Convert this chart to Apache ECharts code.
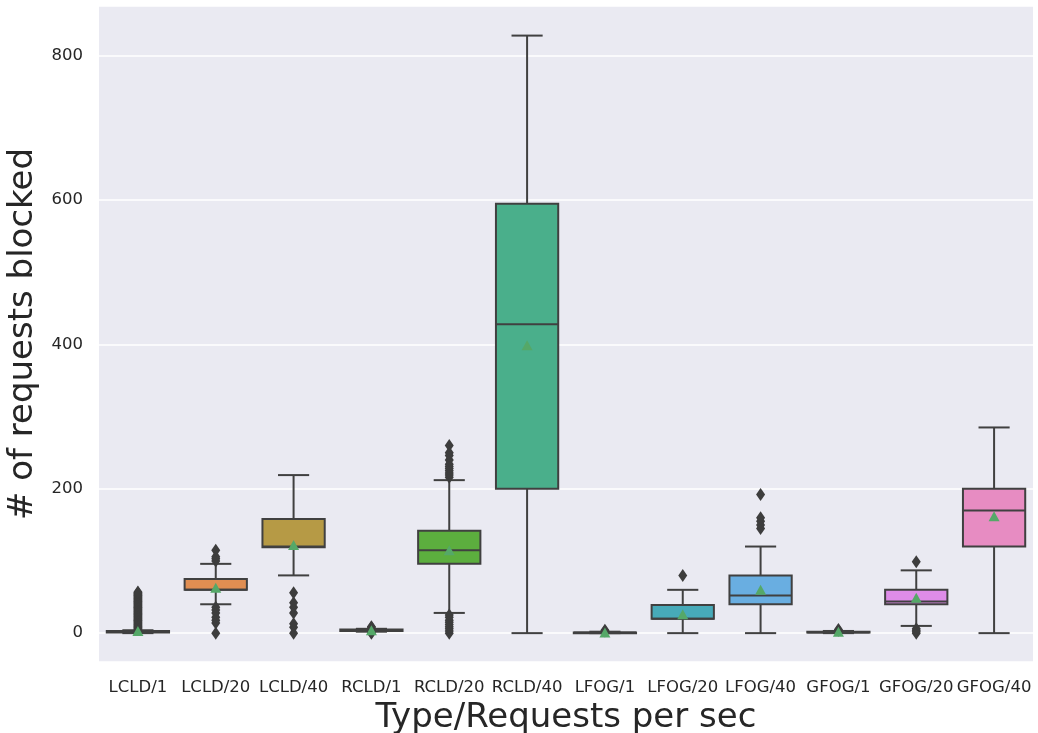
<!DOCTYPE html>
<html>
<head>
<meta charset="utf-8">
<script src="https://cdn.jsdelivr.net/npm/echarts@6/dist/echarts.min.js"></script>
<style>html,body{margin:0;padding:0;background:#fff;}#chart{width:1038px;height:733px;}</style>
</head>
<body>
<div id="chart"></div>
<script>
const categories = ['LCLD/1','LCLD/20','LCLD/40','RCLD/1','RCLD/20','RCLD/40','LFOG/1','LFOG/20','LFOG/40','GFOG/1','GFOG/20','GFOG/40'];
const whiskerLow  = [0, 40, 80, 2, 28, 0, 0, 0, 0, 0, 10, 0];
const q1          = [1, 60, 119, 3, 96, 200, 0, 20, 40, 1, 40, 120];
const median      = [2, 60, 120, 4, 115, 428, 1, 20, 52, 1, 44, 170];
const q3          = [3, 75, 158, 5, 142, 595, 1, 39, 80, 2, 60, 200];
const whiskerHigh = [4, 96, 219, 6, 212, 828, 2, 60, 120, 3, 87, 285];
const means       = [3, 63, 122, 4, 115, 399, 1, 26, 60, 2, 49, 162];
const outliers = [
  [5,6,7,8,9,10,11,12,13,14,15,16,17,18,19,20,21,22,23,24,25,26,27,28,29,30,31,32,33,34,35,36,37,38,39,40,41,42,43,44,45,46,47,48,49,50,51,52,53,54,55,56,57],
  [0, 14, 18, 22, 28, 32, 36, 100, 103, 106, 115],
  [0, 8, 13, 28, 36, 42, 56],
  [0, 1, 8, 9],
  [0, 3, 6, 9, 12, 15, 18, 22, 25, 216, 219, 222, 225, 228, 231, 234, 240, 246, 250, 260],
  [],
  [3, 4],
  [80],
  [145, 150, 155, 160, 192],
  [4, 5],
  [0, 2, 4, 6, 99],
  []
];
const palette = ['#e1798a','#e08e52','#b69a45','#93a24a','#5cae3e','#4aaf8b','#48aca5','#47aab9','#69aee1','#a790e8','#de8ce8','#e78cc2'];

const boxData = categories.map((c, i) => [i, whiskerLow[i], q1[i], median[i], q3[i], whiskerHigh[i]]);
const outlierData = [];
outliers.forEach((arr, i) => arr.forEach(v => outlierData.push([i, v])));
const meanData = means.map((m, i) => [i, m]);

const edge = '#404040';
const chart = echarts.init(document.getElementById('chart'), null, {renderer: 'canvas'});
chart.setOption({
  animation: false,
  backgroundColor: '#ffffff',
  textStyle: {fontFamily: 'DejaVu Sans'},
  grid: {left: 99, right: 5, top: 6, bottom: 71, show: true, backgroundColor: '#eaeaf2', borderWidth: 0,
         containLabel: false, outerBoundsMode: 'none'},
  xAxis: {
    type: 'category',
    data: categories,
    axisLine: {show: false},
    axisTick: {show: false},
    axisLabel: {fontSize: 16.5, color: '#262626', margin: 17, interval: 0, fontFamily: 'DejaVu Sans'},
    splitLine: {show: false},
    name: 'Type/Requests per sec',
    nameLocation: 'middle',
    nameGap: 38,
    nameTextStyle: {fontSize: 34, color: '#262626', fontFamily: 'DejaVu Sans'}
  },
  yAxis: {
    type: 'value',
    min: -40,
    max: 869,
    splitNumber: 5,
    axisLine: {show: false},
    axisTick: {show: false},
    axisLabel: {fontSize: 16.5, color: '#262626', margin: 16, showMinLabel: false, showMaxLabel: false, fontFamily: 'DejaVu Sans'},
    splitLine: {show: true, lineStyle: {color: '#ffffff', width: 1.5}},
    name: '# of requests blocked',
    nameLocation: 'middle',
    nameGap: 50,
    nameTextStyle: {fontSize: 34, color: '#262626', fontFamily: 'DejaVu Sans'}
  },
  series: [
    {
      type: 'custom',
      data: boxData,
      encode: {x: 0, y: [1, 2, 3, 4, 5]},
      z: 2,
      renderItem: function (params, api) {
        const idx = api.value(0);
        const band = api.size([1, 0])[0];
        const bw = band * 0.8;
        const cw = bw / 2;
        const pLo = api.coord([idx, api.value(1)]);
        const pQ1 = api.coord([idx, api.value(2)]);
        const pMd = api.coord([idx, api.value(3)]);
        const pQ3 = api.coord([idx, api.value(4)]);
        const pHi = api.coord([idx, api.value(5)]);
        const cx = pMd[0];
        const st = {stroke: edge, lineWidth: 2, fill: null};
        return {
          type: 'group',
          children: [
            {type: 'line', shape: {x1: cx, y1: pQ1[1], x2: cx, y2: pLo[1]}, style: st},
            {type: 'line', shape: {x1: cx, y1: pQ3[1], x2: cx, y2: pHi[1]}, style: st},
            {type: 'line', shape: {x1: cx - cw / 2, y1: pLo[1], x2: cx + cw / 2, y2: pLo[1]}, style: st},
            {type: 'line', shape: {x1: cx - cw / 2, y1: pHi[1], x2: cx + cw / 2, y2: pHi[1]}, style: st},
            {type: 'rect', shape: {x: cx - bw / 2, y: pQ3[1], width: bw, height: pQ1[1] - pQ3[1]},
             style: {fill: palette[params.dataIndex], stroke: edge, lineWidth: 2}},
            {type: 'line', shape: {x1: cx - bw / 2, y1: pMd[1], x2: cx + bw / 2, y2: pMd[1]}, style: st}
          ]
        };
      }
    },
    {
      type: 'scatter',
      data: outlierData,
      symbol: 'diamond',
      symbolSize: [9, 13],
      itemStyle: {color: '#3d3d3d', opacity: 1},
      z: 3
    },
    {
      type: 'scatter',
      data: meanData,
      symbol: 'triangle',
      symbolSize: [11, 10],
      itemStyle: {color: '#55a868', opacity: 1},
      z: 4
    }
  ]
});
</script>
</body>
</html>
